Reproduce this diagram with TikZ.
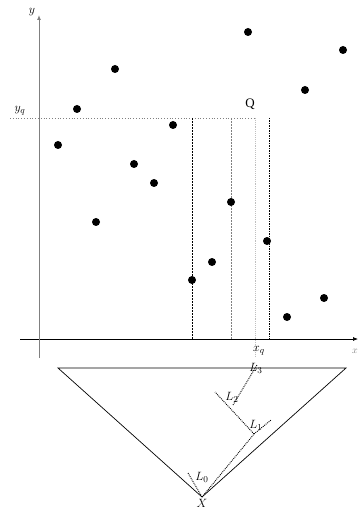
\documentclass[tikz,border=0pt]{standalone}
\usepackage{fontspec}
\setmainfont{Liberation Serif}
\usetikzlibrary{arrows.meta}
\begin{document}
\begin{tikzpicture}[x=1pt,y=-1pt,
  pt/.style={circle,fill=black,inner sep=0pt,minimum size=8pt},
  lbl/.style={inner sep=0pt,font=\fontsize{13}{15}\selectfont},
  tickline/.style={densely dotted,line width=0.9pt},
  axtip/.style={-{Latex[length=5pt,width=4pt]}}]
\useasboundingbox (0,0) rectangle (358,510);
% axes
\coordinate (xs) at (20,339); \coordinate (xe) at (358,339);
\coordinate (ys) at (39,358); \coordinate (ye) at (39,15);
\draw[axtip,line width=0.7pt] (xs) -- (xe);
\draw[axtip,gray,line width=1pt] (ys) -- (ye);
\node[lbl] (ylab) at (32,12) {$y$};
\node[lbl,anchor=east,font=\fontsize{10}{11}\selectfont,gray] (xlab) at (358,351) {$x$};
% query lines
\coordinate (yqs) at (10,118); \coordinate (yqe) at (255,118);
\draw[dotted,gray,line width=0.8pt] (yqs) -- (yqe);
\node[lbl] (yq) at (20,111) {$y_q$};
\node[lbl] (Q) at (250,104) {Q};
\coordinate (v1t) at (192,118); \coordinate (v1b) at (192,339);
\coordinate (v2t) at (231,118); \coordinate (v2b) at (231,339);
\coordinate (v3t) at (255,118); \coordinate (v3b) at (255,356);
\coordinate (v4t) at (269,118); \coordinate (v4b) at (269,339);
\draw[dash pattern=on 2pt off 1pt,line width=0.5pt] (v1t) -- (v1b);
\draw[dash pattern=on 2pt off 1pt,gray,line width=0.9pt] (v2t) -- (v2b);
\draw[densely dotted,gray!50,line width=0.9pt] (v3t) -- (v3b);
\draw[dash pattern=on 1.5pt off 1pt,line width=0.5pt] (v4t) -- (v4b);
\node[lbl] (xq) at (259,351) {$x_q$};
% points
\foreach \i/\x/\y in {1/58/145,2/77/109,3/115/69,4/96/222,5/134/164,6/154/183,7/173/125,8/192/280,9/212/262,10/231/202,11/248/32,12/267/241,13/287/317,14/305/90,15/324/298,16/343/50}
  \node[pt] (p\i) at (\x,\y) {};
% triangle
\coordinate (tl) at (58,368); \coordinate (tr) at (346,368); \coordinate (tb) at (202,497);
\draw[line width=0.7pt] (tl) -- (tr) -- (tb) -- cycle;
\node[lbl] (X) at (202,503) {$X$};
% search path
\coordinate (a0) at (188,473);
\coordinate (n1) at (254,434);
\coordinate (t1) at (271,420);
\coordinate (a2) at (215,392);
\coordinate (n2) at (233,405);
\coordinate (n3) at (257,365);
\draw[tickline] (a0) -- (tb);
\draw[tickline] (tb) -- (n1);
\draw[tickline] (n1) -- (t1);
\draw[tickline] (n1) -- (a2);
\draw[tickline] (n2) -- (n3);
\node[lbl] (L0) at (202,477) {$L_0$};
\node[lbl] (L1) at (256,425) {$L_1$};
\node[lbl] (L2) at (232,397) {$L_2$};
\node[lbl] (L3) at (256,368) {$L_3$};
\end{tikzpicture}
\end{document}
